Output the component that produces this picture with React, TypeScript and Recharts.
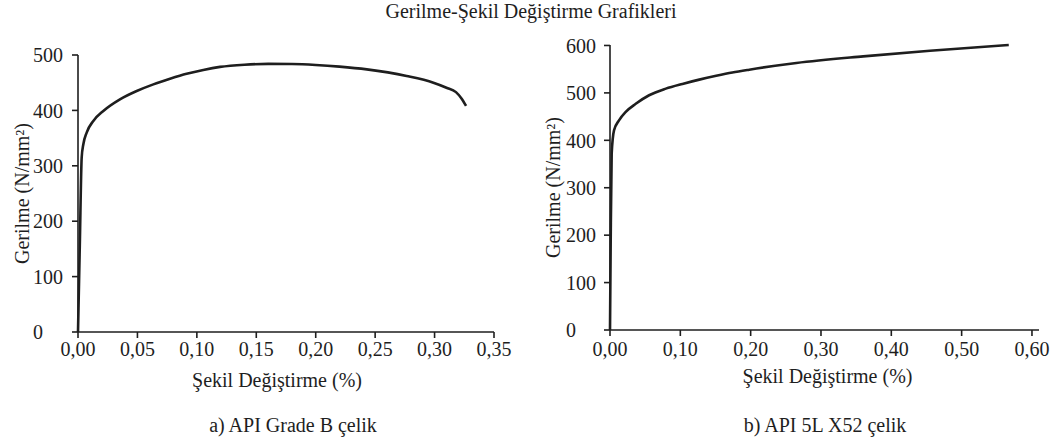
import { LineChart, Line, XAxis, YAxis } from "recharts";

// API Grade B
const gradeBStrain = [
  0, 0.0015, 0.0031, 0.0045, 0.0073, 0.0129, 0.0213, 0.0353, 0.0494, 0.0634,
  0.0774, 0.0914, 0.1054, 0.1195, 0.14, 0.16, 0.18, 0.2, 0.22, 0.243, 0.2765,
  0.299, 0.31, 0.318, 0.3225, 0.3265,
];
const gradeBStress = [
  0, 155, 315, 339, 360, 381, 399, 420, 435, 447, 457, 466, 473, 478.5, 482.5,
  484, 483.7, 482, 479, 474, 462, 450, 441, 433, 422, 408,
];

// API 5L X52
const x52Strain = [
  0, 0.001, 0.0024, 0.0057, 0.0128, 0.0224, 0.0366, 0.0556, 0.0794, 0.103,
  0.127, 0.151, 0.174, 0.198, 0.265, 0.36, 0.455, 0.567,
];
const x52Stress = [
  0, 190, 372, 421, 442, 460, 477, 495, 509, 519, 528, 536, 543, 549, 563, 577,
  589, 601,
];

const gradeBXTicks = [0, 0.05, 0.1, 0.15, 0.2, 0.25, 0.3, 0.35];
const gradeBYTicks = [0, 100, 200, 300, 400, 500];
const x52XTicks = [0, 0.1, 0.2, 0.3, 0.4, 0.5, 0.6];
const x52YTicks = [0, 100, 200, 300, 400, 500, 600];

const gradeBData = gradeBStrain.map((x, i) => ({ x, y: gradeBStress[i] }));
const x52Data = x52Strain.map((x, i) => ({ x, y: x52Stress[i] }));

const INK = "#1e1e1e";
const FONT = "'Liberation Serif', 'Times New Roman', serif";

const fmt = (v: number) => v.toFixed(2).replace(".", ",");

// y tick labels in the source are left-aligned
function LeftTick(props: any) {
  const { x, y, payload, shift } = props;
  return (
    <text x={x - shift} y={y} dy="0.36em" textAnchor="start" fill={INK} fontSize={20}>
      {payload.value}
    </text>
  );
}

const axisStyle = { stroke: INK, strokeWidth: 1.6 };

export default function App() {
  return (
    <div
      style={{
        position: "absolute",
        left: 0,
        top: 0,
        width: 1052,
        height: 443,
        background: "#fff",
        fontFamily: FONT,
        color: INK,
      }}
    >
      <div
        style={{
          position: "absolute",
          left: 0,
          width: 1062,
          top: 0,
          textAlign: "center",
          fontSize: 20,
          lineHeight: "22px",
        }}
      >
        Gerilme-Şekil Değiştirme Grafikleri
      </div>

      <div style={{ position: "absolute", left: 0, top: 0 }}>
        <LineChart
          width={540}
          height={443}
          data={gradeBData}
          margin={{ top: 55, right: 46, bottom: 51, left: 0 }}
        >
          <XAxis
            dataKey="x"
            type="number"
            domain={[0, 0.35]}
            ticks={gradeBXTicks}
            tickFormatter={fmt}
            height={60}
            tickSize={6}
            tickMargin={4}
            axisLine={axisStyle}
            tickLine={axisStyle}
            tick={{ fontSize: 20, fill: INK }}
            label={{
              value: "Şekil Değiştirme (%)",
              position: "insideBottom",
              offset: 5,
              dx: -9,
              fill: INK,
              fontSize: 20,
            }}
          />
          <YAxis
            dataKey="y"
            type="number"
            domain={[0, 500]}
            ticks={gradeBYTicks}
            width={78}
            tickSize={6}
            tickMargin={0}
            axisLine={axisStyle}
            tickLine={axisStyle}
            tick={<LeftTick shift={39} />}
            label={{
              value: "Gerilme (N/mm²)",
              angle: -90,
              position: "insideLeft",
              offset: 22,
              fill: INK,
              fontSize: 20,
              style: { textAnchor: "middle" },
            }}
          />
          <Line
            type="monotone"
            dataKey="y"
            stroke={INK}
            strokeWidth={2.6}
            dot={false}
            isAnimationActive={false}
          />
        </LineChart>
      </div>

      <div style={{ position: "absolute", left: 530, top: 0 }}>
        <LineChart
          width={522}
          height={443}
          data={x52Data}
          margin={{ top: 45, right: 13, bottom: 53, left: 0 }}
        >
          <XAxis
            dataKey="x"
            type="number"
            domain={[0, 0.61]}
            ticks={x52XTicks}
            tickFormatter={fmt}
            height={60}
            tickSize={6}
            tickMargin={6}
            axisLine={axisStyle}
            tickLine={axisStyle}
            tick={{ fontSize: 20, fill: INK }}
            label={{
              value: "Şekil Değiştirme (%)",
              position: "insideBottom",
              offset: 7,
              dx: 3,
              fill: INK,
              fontSize: 20,
            }}
          />
          <YAxis
            dataKey="y"
            type="number"
            domain={[0, 600]}
            ticks={x52YTicks}
            width={80}
            tickSize={6}
            tickMargin={0}
            axisLine={axisStyle}
            tickLine={axisStyle}
            tick={<LeftTick shift={38} />}
            label={{
              value: "Gerilme (N/mm²)",
              angle: -90,
              position: "insideLeft",
              offset: 23,
              fill: INK,
              fontSize: 20,
              style: { textAnchor: "middle" },
            }}
          />
          <Line
            type="monotone"
            dataKey="y"
            stroke={INK}
            strokeWidth={2.6}
            dot={false}
            isAnimationActive={false}
          />
        </LineChart>
      </div>

      <div
        style={{
          position: "absolute",
          left: 193,
          width: 200,
          top: 413,
          textAlign: "center",
          fontSize: 20,
          lineHeight: "24px",
        }}
      >
        a) API Grade B çelik
      </div>
      <div
        style={{
          position: "absolute",
          left: 725,
          width: 200,
          top: 413,
          textAlign: "center",
          fontSize: 20,
          lineHeight: "24px",
        }}
      >
        b) API 5L X52 çelik
      </div>
    </div>
  );
}
